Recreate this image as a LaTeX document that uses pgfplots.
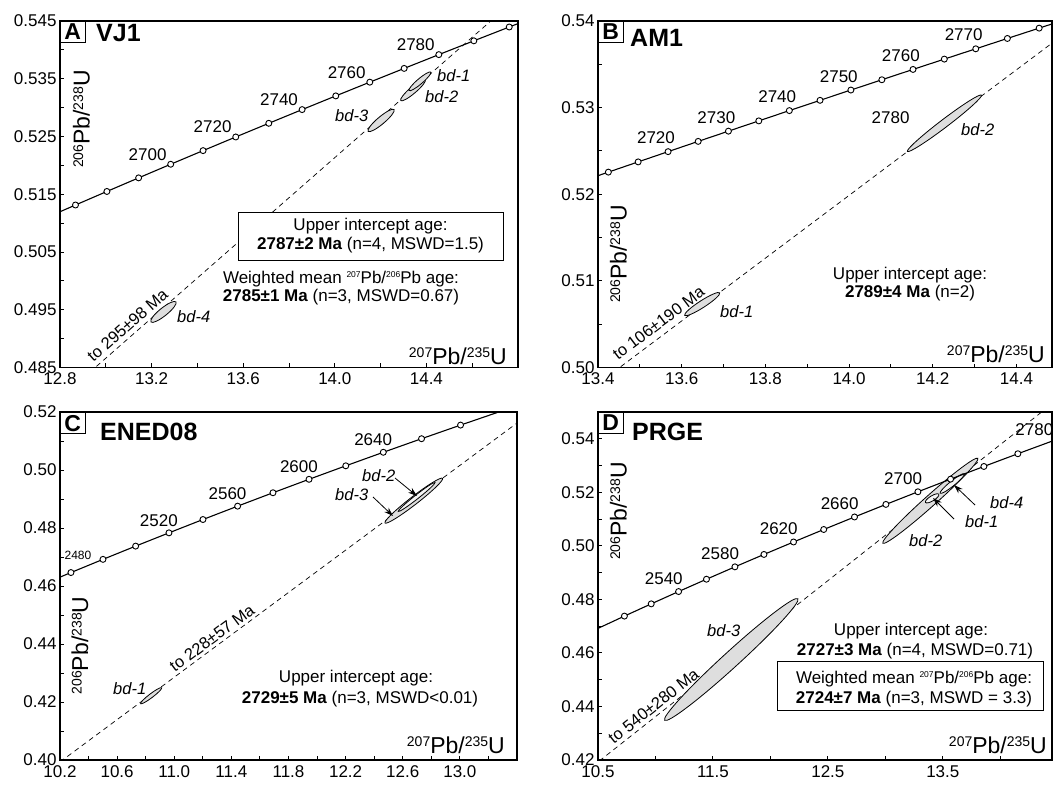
\documentclass[border=0pt]{standalone}
\usepackage{fontspec}
\setmainfont{Liberation Sans}
\usepackage{pgfplots}
\pgfplotsset{compat=1.18}
\usetikzlibrary{arrows.meta}
\newcommand\fs[1]{\fontsize{#1}{#1}\selectfont}
\newcommand\sups[1]{\raisebox{6.5pt}{\fs{14}#1}}
\newcommand\tsup[1]{\raisebox{6pt}{\fs{8.5}#1}}
\newcommand\PbU[2]{\sups{#1}Pb/\sups{#2}U}
\pgfplotsset{
 myaxis/.style={anchor=south west, scale only axis, clip mode=individual, clip marker paths=true,
   axis line style={line width=1.1pt},
   tick pos=left, tick align=inside,
   major tick length=4pt, minor tick length=4pt,
   tick style={black, line width=0.9pt},
   scaled ticks=false,
   ticklabel style={font=\fs{17}},
   xticklabel style={yshift=-2pt, /pgf/number format/.cd, fixed, fixed zerofill, precision=1, assume math mode=true},
   yticklabel style={/pgf/number format/.cd, fixed, fixed zerofill, precision=2, assume math mode=true}},
 conc/.style={black, line width=1.1pt, mark=none},
 mk/.style={only marks, mark=*, mark size=3pt, mark options={fill=white, draw=black, line width=0.9pt}},
 disc/.style={black, line width=0.7pt, dash pattern=on 5pt off 4pt},
 ell/.style={draw=black, line width=0.8pt, fill=black!13, smooth cycle, tension=1},
 ellw/.style={draw=black, line width=0.8pt, fill=black!4, smooth cycle, tension=1},
}
\tikzset{
 lab/.style={font=\fs{17}, inner sep=0pt, anchor=base east},
 tt/.style={font=\fs{17}, inner sep=0pt, anchor=base},
 bd/.style={font=\itshape\fs{16.5}, inner sep=0pt, anchor=base west},
 ttl/.style={font=\bfseries\fs{25}, inner sep=0pt, anchor=base west},
 pbox/.style={draw, line width=0.9pt, anchor=north west, font=\bfseries\fs{23}, inner xsep=4pt, inner ysep=2.5pt, fill=white},
 axl/.style={font=\fs{23}, inner sep=0pt},
 arr/.style={-{Stealth[length=9pt,width=6pt]}, line width=0.8pt},
 dtxt/.style={font=\fs{16.5}, inner sep=0pt},
}
\begin{document}
\begin{tikzpicture}
\path[use as bounding box] (0,0) rectangle (1056pt,788pt);
% ---------------- Panel A
\begin{axis}[myaxis, at={(60pt,420.5pt)}, width=458pt, height=346.5pt,
  xmin=12.8, xmax=14.8, ymin=0.485, ymax=0.545,
  xtick={12.8,13.2,13.6,14.0,14.4}, minor xtick={13.0,13.4,13.8,14.2,14.6},
  ytick={0.485,0.495,0.505,0.515,0.525,0.535,0.545}, minor ytick={0.49,0.50,0.51,0.52,0.53,0.54},
  yticklabel style={/pgf/number format/precision=3}]
\addplot[disc] coordinates {(12.9,0.48314) (14.75,0.547392)};
\addplot[ell] coordinates {(14.2589,0.52967) (14.19185,0.528269) (14.1455,0.52589) (14.21255,0.527291)};
\addplot[ell] coordinates {(14.3956,0.534867) (14.33241,0.533477) (14.288,0.531219) (14.35119,0.532609)};
\addplot[ell] coordinates {(14.41895,0.536142) (14.36405,0.534905) (14.32445,0.532956) (14.37935,0.534193)};
\addplot[ell] coordinates {(13.30625,0.496361) (13.24074,0.495164) (13.19715,0.492887) (13.26266,0.494084)};
\addplot[conc] coordinates {(12.731613,0.510790) (12.867529,0.513136) (13.004765,0.515484) (13.143388,0.517837) (13.283356,0.520194) (13.424725,0.522554) (13.567482,0.524918) (13.711678,0.527284) (13.857263,0.529657) (14.004321,0.532031) (14.152805,0.534409) (14.302793,0.536790) (14.454238,0.539178) (14.607187,0.541567) (14.761664,0.543959) (14.917653,0.546355)};
\addplot[mk] coordinates {(12.867529,0.513136) (13.004765,0.515484) (13.143388,0.517837) (13.283356,0.520194) (13.424725,0.522554) (13.567482,0.524918) (13.711678,0.527284) (13.857263,0.529657) (14.004321,0.532031) (14.152805,0.534409) (14.302793,0.536790) (14.454238,0.539178) (14.607187,0.541567) (14.761664,0.543959)};
\node[lab, xshift=-4pt, yshift=4pt] at (axis cs:13.283356,0.520194) {2700};
\node[lab, xshift=-4pt, yshift=4pt] at (axis cs:13.567482,0.524918) {2720};
\node[lab, xshift=-4pt, yshift=4pt] at (axis cs:13.857263,0.529657) {2740};
\node[lab, xshift=-4pt, yshift=4pt] at (axis cs:14.152805,0.534409) {2760};
\node[lab, xshift=-4pt, yshift=4pt] at (axis cs:14.454238,0.539178) {2780};
\end{axis}
% ---------------- Panel B
\begin{axis}[myaxis, at={(598pt,420.5pt)}, width=454pt, height=346.5pt,
  xmin=13.4, xmax=14.485, ymin=0.50, ymax=0.54,
  xtick={13.4,13.6,13.8,14.0,14.2,14.4}, minor xtick={13.5,13.7,13.9,14.1,14.3},
  ytick={0.50,0.51,0.52,0.53,0.54}, minor ytick={0.505,0.515,0.525,0.535}]
\addplot[disc] coordinates {(13.42,0.498853) (14.6,0.541610)};
\addplot[ell] coordinates {(14.31635,0.53144) (14.22212,0.528559) (14.13945,0.524942) (14.23368,0.527823)};
\addplot[ell] coordinates {(13.6908,0.50862) (13.64449,0.50766) (13.6072,0.50602) (13.65351,0.50698)};
\addplot[conc] coordinates {(13.353852,0.521373) (13.424725,0.522554) (13.495919,0.523735) (13.567482,0.524918) (13.639412,0.526102) (13.711678,0.527284) (13.784289,0.528470) (13.857263,0.529657) (13.930606,0.530843) (14.004321,0.532031) (14.078376,0.533218) (14.152805,0.534409) (14.227605,0.535600) (14.302793,0.536790) (14.378322,0.537984) (14.454238,0.539178) (14.530512,0.540371) (14.607187,0.541567)};
\addplot[mk] coordinates {(13.424725,0.522554) (13.495919,0.523735) (13.567482,0.524918) (13.639412,0.526102) (13.711678,0.527284) (13.784289,0.528470) (13.857263,0.529657) (13.930606,0.530843) (14.004321,0.532031) (14.078376,0.533218) (14.152805,0.534409) (14.227605,0.535600) (14.302793,0.536790) (14.378322,0.537984) (14.454238,0.539178)};
\node[lab, xshift=7pt, yshift=8pt] at (axis cs:13.567482,0.524918) {2720};
\node[lab, xshift=7pt, yshift=8pt] at (axis cs:13.711678,0.527284) {2730};
\node[lab, xshift=7pt, yshift=8pt] at (axis cs:13.857263,0.529657) {2740};
\node[lab, xshift=7pt, yshift=8pt] at (axis cs:14.004321,0.532031) {2750};
\node[lab, xshift=7pt, yshift=8pt] at (axis cs:14.152805,0.534409) {2760};
\node[lab, xshift=7pt, yshift=8pt] at (axis cs:14.302793,0.536790) {2770};
\end{axis}
% ---------------- Panel C
\begin{axis}[myaxis, at={(60pt,28pt)}, width=457pt, height=348pt,
  xmin=10.2, xmax=13.4, ymin=0.40, ymax=0.52,
  xtick={10.2,10.6,11.0,11.4,11.8,12.2,12.6,13.0}, minor xtick={10.4,10.8,11.2,11.6,12.0,12.4,12.8,13.2},
  ytick={0.40,0.42,0.44,0.46,0.48,0.50,0.52}, minor ytick={0.41,0.43,0.45,0.47,0.49,0.51}]
\addplot[disc] coordinates {(10.15,0.397502) (13.45,0.518020)};
\addplot[ell] coordinates {(12.87915,0.497143) (12.66008,0.490519) (12.47545,0.481715) (12.69452,0.488339)};
\addplot[ellw] coordinates {(12.82535,0.495657) (12.68832,0.491226) (12.56865,0.485715) (12.70568,0.490146)};
\addplot[ell] coordinates {(10.9118,0.424914) (10.82985,0.42272) (10.7648,0.419428) (10.84675,0.421622)};
\addplot[conc] coordinates {(10.056675,0.460100) (10.276610,0.464638) (10.500932,0.469189) (10.729717,0.473755) (10.963034,0.478333) (11.201011,0.482927) (11.443723,0.487534) (11.691247,0.492158) (11.943717,0.496794) (12.201194,0.501446) (12.463792,0.506110) (12.731613,0.510790) (13.004765,0.515484) (13.283356,0.520194)};
\addplot[mk] coordinates {(10.276610,0.464638) (10.500932,0.469189) (10.729717,0.473755) (10.963034,0.478333) (11.201011,0.482927) (11.443723,0.487534) (11.691247,0.492158) (11.943717,0.496794) (12.201194,0.501446) (12.463792,0.506110) (12.731613,0.510790) (13.004765,0.515484)};
\node[lab, xshift=9pt, yshift=6.5pt] at (axis cs:10.963034,0.478333) {2520};
\node[lab, xshift=9pt, yshift=6.5pt] at (axis cs:11.443723,0.487534) {2560};
\node[lab, xshift=9pt, yshift=6.5pt] at (axis cs:11.943717,0.496794) {2600};
\node[lab, xshift=9pt, yshift=6.5pt] at (axis cs:12.463792,0.506110) {2640};
\end{axis}
% ---------------- Panel D
\begin{axis}[myaxis, at={(598pt,28pt)}, width=454pt, height=348pt,
  xmin=10.5, xmax=14.45, ymin=0.42, ymax=0.55,
  xtick={10.5,11.5,12.5,13.5}, minor xtick={11.0,12.0,13.0,14.0},
  ytick={0.42,0.44,0.46,0.48,0.50,0.52,0.54}, minor ytick={0.43,0.45,0.47,0.49,0.51,0.53}]
\addplot[disc] coordinates {(10.45,0.417564) (14.45,0.553053)};
\addplot[ell] coordinates {(12.2391,0.480246) (11.61253,0.459746) (11.0797,0.43483) (11.70627,0.45533)};
\addplot[ell] coordinates {(13.8043,0.532684) (13.35947,0.518362) (12.9783,0.500976) (13.42313,0.515298)};
\addplot[ellw] coordinates {(13.4652,0.519268) (13.39583,0.518544) (13.3492,0.51622) (13.41857,0.516944)};
\addplot[ellw] coordinates {(13.6884,0.526952) (13.56895,0.524021) (13.4768,0.519634) (13.59625,0.522565)};
\addplot[conc] coordinates {(10.276610,0.464638) (10.500932,0.469189) (10.729717,0.473755) (10.963034,0.478333) (11.201011,0.482927) (11.443723,0.487534) (11.691247,0.492158) (11.943717,0.496794) (12.201194,0.501446) (12.463792,0.506110) (12.731613,0.510790) (13.004765,0.515484) (13.283356,0.520194) (13.567482,0.524918) (13.857263,0.529657) (14.152805,0.534409) (14.454238,0.539178) (14.761664,0.543959)};
\addplot[mk] coordinates {(10.729717,0.473755) (10.963034,0.478333) (11.201011,0.482927) (11.443723,0.487534) (11.691247,0.492158) (11.943717,0.496794) (12.201194,0.501446) (12.463792,0.506110) (12.731613,0.510790) (13.004765,0.515484) (13.283356,0.520194) (13.567482,0.524918) (13.857263,0.529657) (14.152805,0.534409) (14.454238,0.539178)};
\node[lab, xshift=4.3pt, yshift=7.5pt] at (axis cs:11.201011,0.482927) {2540};
\node[lab, xshift=4.3pt, yshift=7.5pt] at (axis cs:11.691247,0.492158) {2580};
\node[lab, xshift=4.3pt, yshift=7.5pt] at (axis cs:12.201194,0.501446) {2620};
\node[lab, xshift=4.3pt, yshift=7.5pt] at (axis cs:12.731613,0.510790) {2660};
\node[lab, xshift=4.3pt, yshift=7.5pt] at (axis cs:13.283356,0.520194) {2700};
\node[lab, xshift=1pt, yshift=5pt] at (axis cs:14.454238,0.539178) {2780};
\end{axis}
% ---------------- annotations (pixel coordinates, y downward)
\begin{scope}[x=1pt, y=-1pt, yshift=788pt]
% A
\node[pbox] at (60,21) {A};
\node[ttl] at (96,42) {VJ1};
\node[axl, rotate=90] at (81.5,119) {\PbU{206}{238}};
\node[axl, anchor=base east] at (507,364) {\PbU{207}{235}};
\draw[line width=0.9pt, fill=white] (238,212) rectangle (503,260);
\node[tt] at (370.5,231) {Upper intercept age:};
\node[tt] at (370.5,250) {\textbf{2787±2 Ma} (n=4, MSWD=1.5)};
\node[tt] at (341,283.5) {Weighted mean \tsup{207}Pb/\tsup{206}Pb age:};
\node[tt] at (341,302) {\textbf{2785±1 Ma} (n=3, MSWD=0.67)};
\node[dtxt, rotate=41.3] at (127.5,325) {to 295±98 Ma};
\node[bd] at (335,122) {bd-3};
\node[bd] at (437,82) {bd-1};
\node[bd] at (425,103) {bd-2};
\node[bd] at (177,323) {bd-4};
% B
\node[pbox] at (598,21) {B};
\node[ttl] at (630,47) {AM1};
\node[axl, rotate=90] at (618.5,254) {\PbU{206}{238}};
\node[axl, anchor=base east] at (1045,362) {\PbU{207}{235}};
\node[tt] at (910,280) {Upper intercept age:};
\node[tt] at (910,298) {\textbf{2789±4 Ma} (n=2)};
\node[lab, anchor=base west] at (871.5,123.3) {2780};
\node[dtxt, rotate=37] at (658.5,323) {to 106±190 Ma};
\node[bd] at (961,136) {bd-2};
\node[bd] at (720,318) {bd-1};
% C
\node[pbox] at (60,412) {C};
\node[ttl] at (100,440) {ENED08};
\node[axl, rotate=90] at (80,645.5) {\PbU{206}{238}};
\node[axl, anchor=base east] at (505,753) {\PbU{207}{235}};
\node[tt] at (356,682) {Upper intercept age:};
\node[tt] at (360,703) {\textbf{2729±5 Ma} (n=3, MSWD<0.01)};
\node[font=\fs{12}, inner sep=0pt, anchor=base] at (78,559) {2480};
\node[dtxt, rotate=36.6] at (212,638) {to 228±57 Ma};
\node[bd] at (113,694) {bd-1};
\node[bd] at (362,481) {bd-2};
\node[bd] at (335,500) {bd-3};
\draw[arr] (395,478) -- (417,496);
\draw[arr] (373,497) -- (393,516);
% D
\node[pbox] at (598,412) {D};
\node[ttl] at (632,440) {PRGE};
\node[axl, rotate=90] at (618.5,511) {\PbU{206}{238}};
\node[axl, anchor=base east] at (1047,753) {\PbU{207}{235}};
\node[tt] at (911,635) {Upper intercept age:};
\node[tt] at (915,655) {\textbf{2727±3 Ma} (n=4, MSWD=0.71)};
\draw[line width=0.9pt, fill=white] (777,661) rectangle (1043,710);
\node[tt] at (914,683) {Weighted mean \tsup{207}Pb/\tsup{206}Pb age:};
\node[tt] at (914,703) {\textbf{2724±7 Ma} (n=3, MSWD = 3.3)};
\node[dtxt, rotate=38.3] at (653.5,706) {to 540±280 Ma};
\node[bd] at (990,508) {bd-4};
\node[bd] at (965,527) {bd-1};
\node[bd] at (909,546) {bd-2};
\node[bd] at (707,636) {bd-3};
\draw[arr] (975,505) -- (954,485);
\draw[arr] (954,519) -- (933,498);
\end{scope}
\end{tikzpicture}
\end{document}
